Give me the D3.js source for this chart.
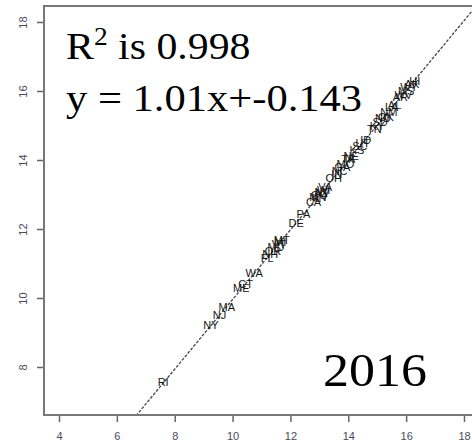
<!DOCTYPE html>
<html>
<head>
<meta charset="utf-8">
<script src="https://cdn.jsdelivr.net/npm/d3@7"></script>
<style>
  body { margin: 0; background: #fff; }
  svg { display: block; }
</style>
</head>
<body>
<div id="chart"></div>
<script>
// state labels and their (x, y) positions
const states = ['RI','NY','NJ','MA','ME','CT','WA','FL','NH','OR','MD','VT','MI','MT','DE','PA',
  'CA','MN','IL','CO','AZ','NV','WI','VA',
  'OH','IN','NC','GA','MO','TX','IA','NE',
  'KS','SC','UT','ID',
  'TN','KY','SD','ND','OK','NM','LA','AL',
  'AR','WV','MS','WY','AK','HI'];
const xVals = [7.6,9.25,9.55,9.8,10.3,10.45,10.75,11.2,11.3,11.4,11.5,11.6,11.65,11.7,12.2,12.45,
  12.8,12.95,12.9,13.0,13.05,13.1,13.15,13.2,
  13.5,13.6,13.7,13.8,13.9,14.0,14.05,14.1,
  14.3,14.4,14.5,14.6,
  14.9,15.0,15.1,15.2,15.3,15.4,15.5,15.6,
  15.8,15.9,16.0,16.1,16.2,16.3];
const yVals = [7.57,9.22,9.5,9.74,10.3,10.4,10.72,11.15,11.28,11.37,11.47,11.56,11.62,11.68,12.18,12.42,
  12.78,12.93,12.88,12.97,13.05,13.06,13.12,13.2,
  13.48,13.6,13.68,13.8,13.88,14.02,14.04,14.12,
  14.28,14.4,14.5,14.58,
  14.9,14.98,15.1,15.2,15.25,15.38,15.52,15.58,
  15.82,15.88,16.0,16.1,16.2,16.3];
const xTicks = [4,6,8,10,12,14,16,18];
const yTicks = [8,10,12,14,16,18];
const slope = 1.01, intercept = -0.143;
const r2 = 0.998, year = '2016';

const W = 472, H = 447;
const plotL = 44, plotT = 6, plotB = 415, plotR = 480;

const svg = d3.select('#chart').append('svg')
  .attr('width', W).attr('height', H);

const x = d3.scaleLinear().domain([4, 18]).range([59, 464]);
const y = d3.scaleLinear().domain([8, 18]).range([367, 22]);

svg.append('clipPath').attr('id', 'clip')
  .append('rect').attr('x', plotL).attr('y', plotT)
  .attr('width', plotR - plotL).attr('height', plotB - plotT);

// regression line
const x0 = x.invert(plotL), x1 = x.invert(plotR);
svg.append('line')
  .attr('clip-path', 'url(#clip)')
  .attr('x1', x(x0)).attr('y1', y(slope * x0 + intercept))
  .attr('x2', x(x1)).attr('y2', y(slope * x1 + intercept))
  .attr('stroke', '#444').attr('stroke-width', 1.3)
  .attr('stroke-dasharray', '3,1.5');

// state labels
svg.append('g').selectAll('text')
  .data(states)
  .enter()
  .append('text')
    .attr('x', (d, i) => x(xVals[i]))
    .attr('y', (d, i) => y(yVals[i]))
    .attr('dy', '0.35em')
    .attr('text-anchor', 'middle')
    .style('font-family', "'Liberation Sans', Arial, sans-serif")
    .style('font-size', '11px')
    .attr('fill', '#151515')
    .text(d => d);

// axes
const xAxis = svg.append('g')
  .attr('transform', 'translate(0,' + plotB + ')')
  .call(d3.axisBottom(x).tickValues(xTicks).tickSize(7).tickSizeOuter(0).tickPadding(10));
const yAxis = svg.append('g')
  .attr('transform', 'translate(' + plotL + ',0)')
  .call(d3.axisLeft(y).tickValues(yTicks).tickSize(7).tickSizeOuter(0));

[xAxis, yAxis].forEach(a => {
  a.select('.domain').remove();
  a.selectAll('.tick line').attr('stroke', '#666').attr('stroke-width', 1.5);
  a.selectAll('.tick text')
    .attr('fill', '#4a4a5a')
    .style('font-family', "'Liberation Sans', Arial, sans-serif")
    .style('font-size', '11px');
});
// rotated y labels, reading bottom to top
yAxis.selectAll('.tick text')
  .attr('x', 0).attr('y', 0).attr('dy', '0.35em')
  .attr('text-anchor', 'middle')
  .attr('transform', 'translate(-21,0) rotate(-90)');

// frame lines (left, bottom, top)
svg.append('path')
  .attr('d', `M${plotR},${plotT}H${plotL}V${plotB}H${plotR}`)
  .attr('fill', 'none').attr('stroke', '#777').attr('stroke-width', 2);

// annotations
const ann = svg.append('g')
  .style('font-family', "'Liberation Serif', 'Times New Roman', serif")
  .attr('fill', '#000');

const t1 = ann.append('text')
  .attr('transform', 'translate(66,59) scale(1.1,1)')
  .style('font-size', '38px');
t1.append('tspan').text('R');
t1.append('tspan').attr('dy', -14).style('font-size', '25px').text('2');
t1.append('tspan').attr('dy', 14).text(' is ' + r2);

ann.append('text')
  .attr('transform', 'translate(66,111) scale(1.12,1)')
  .style('font-size', '38px')
  .text('y = ' + slope + 'x+' + intercept);

ann.append('text')
  .attr('transform', 'translate(323,386) scale(1.13,1)')
  .style('font-size', '46px')
  .text(year);
</script>
</body>
</html>
